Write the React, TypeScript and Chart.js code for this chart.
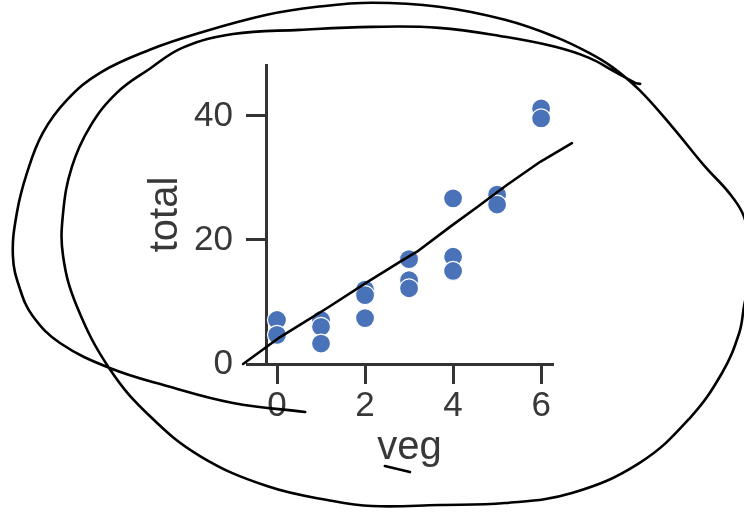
import React, { useEffect, useRef } from "react";
import { Chart, registerables } from "chart.js";

Chart.register(...registerables);

// ---- data (scatter points) ----
const vegValues = [0, 0, 1, 1, 1, 2, 2, 2, 3, 3, 3, 4, 4, 4, 5, 5, 6, 6];
const totalValues = [7.1, 4.7, 7.1, 6.0, 3.3, 12.0, 11.1, 7.4, 16.9, 13.5, 12.2, 26.7, 17.3, 15.0, 27.3, 25.7, 41.2, 39.6];

// ---- axis ticks ----
const xTicks = [0, 2, 4, 6];
const yTicks = [0, 20, 40];
const xTitle = "veg";
const yTitle = "total";

// ---- hand-drawn ink, in data units ----
const trendX = [-0.77, 0.07, 0.52, 1.14, 2.05, 2.8, 3.18, 3.93, 4.55, 5.23, 5.98, 6.7];
const trendY = [0, 4.35, 6.29, 9.03, 13.2, 16.5, 18.1, 22.1, 25.3, 28.9, 32.6, 35.6];

const spiralX = [
  0.64, -1.0, -2.5, -3.8, -4.93, -5.55, -5.84, -6.0, -5.91, -5.68, -5.32, -4.77, -4.02, -2.89, -1.75, -0.23,
  0.91, 2.16, 3.68, 5.18, 6.32, 7.09, 7.61, 8.23, 8.98, 9.73, 10.27, 10.61, 10.8, 10.61, 10.5, 10.11, 9.36,
  8.23, 6.7, 5.18, 3.68, 2.16, 1.27, -0.23, -1.75, -2.89, -3.8, -4.55, -4.86, -4.86, -4.66, -4.25, -3.64,
  -2.89, -2.14, -1.0, 0.52, 2.16, 3.68, 5.18, 6.32, 7.09, 7.68, 8.14, 8.25,
];
const spiralY = [
  -7.74, -6.29, -3.55, -0.65, 3.39, 7.74, 12.1, 17.4, 24.35, 30.8, 37.26, 42.58, 46.94, 50.65, 53.39, 56.29,
  57.58, 58.23, 57.58, 55.48, 52.74, 50.16, 47.9, 44.19, 38.23, 31.77, 27.58, 23.71, 16.77, 9.35, 5.0, -1.45, -8.87,
  -15.97, -20.8, -22.42, -22.74, -22.9, -22.1, -19.68, -14.84, -8.39, -0.81, 9.35, 17.42, 24.35, 31.77, 38.23, 43.71,
  47.6, 51.0, 53.2, 53.87, 54.35, 54.19, 52.74, 51.13, 49.35, 47.1, 45.32, 45.16,
];

const underlineX = [2.45, 3.02];
const underlineY = [-16.45, -17.42];

const FONT = "'Liberation Sans', Arial, Helvetica, sans-serif";
const AXIS = "#333333";
const TEXT = "#383838";
const DOT = "#4a72b8";
const INK = "#000000";

const zip = (xs: number[], ys: number[]) => xs.map((x, i) => ({ x, y: ys[i] }));

export default function App() {
  const ref = useRef<HTMLCanvasElement | null>(null);

  useEffect(() => {
    if (!ref.current) return;
    const ink = (data: { x: number; y: number }[], tension: number) => ({
      data,
      showLine: true,
      pointRadius: 0,
      borderColor: INK,
      borderWidth: 2.6,
      tension,
      clip: false as const,
      borderCapStyle: "round" as const,
      borderJoinStyle: "round" as const,
      order: 0,
    });
    const chart = new Chart(ref.current, {
      type: "scatter",
      data: {
        datasets: [
          ink(zip(trendX, trendY), 0),
          ink(zip(spiralX, spiralY), 0.4),
          ink(zip(underlineX, underlineY), 0),
          {
            data: zip(vegValues, totalValues),
            pointRadius: 9.5,
            pointBackgroundColor: DOT,
            pointBorderColor: "#ffffff",
            pointBorderWidth: 1.2,
            showLine: false,
            order: 1,
          },
        ],
      },
      options: {
        animation: false,
        responsive: false,
        events: [],
        layout: { padding: { top: 65, right: 191, left: 0, bottom: 0 } },
        plugins: { legend: { display: false }, tooltip: { enabled: false } },
        scales: {
          x: {
            type: "linear",
            min: -0.25,
            max: 6.27,
            afterFit: (s: any) => {
              s.height = 148;
            },
            afterBuildTicks: (s: any) => {
              s.ticks = xTicks.map((v) => ({ value: v }));
            },
            grid: { drawOnChartArea: false, drawTicks: true, tickLength: 20, tickWidth: 3, tickColor: AXIS },
            border: { display: true, color: AXIS, width: 3 },
            ticks: { padding: 1, color: TEXT, font: { family: FONT, size: 35 }, callback: (v: any) => String(v) },
            title: { display: true, text: xTitle, color: TEXT, font: { family: FONT, size: 40 }, padding: { top: 0, bottom: 40 } },
          },
          y: {
            type: "linear",
            min: 0,
            max: 48.2,
            afterFit: (s: any) => {
              s.width = 266;
            },
            afterBuildTicks: (s: any) => {
              s.ticks = yTicks.map((v) => ({ value: v }));
            },
            grid: { drawOnChartArea: false, drawTicks: true, tickLength: 20, tickWidth: 3, tickColor: AXIS },
            border: { display: true, color: AXIS, width: 3 },
            ticks: { padding: 13, color: TEXT, font: { family: FONT, size: 35 }, callback: (v: any) => String(v) },
            title: { display: true, text: yTitle, color: TEXT, font: { family: FONT, size: 40 }, padding: { top: 142, bottom: 0 } },
          },
        },
      },
    } as any);
    return () => chart.destroy();
  }, []);

  return (
    <div style={{ position: "fixed", left: 0, top: 0, width: 744, height: 512, background: "#ffffff" }}>
      <canvas ref={ref} width={744} height={512} style={{ width: 744, height: 512, display: "block" }} />
    </div>
  );
}
